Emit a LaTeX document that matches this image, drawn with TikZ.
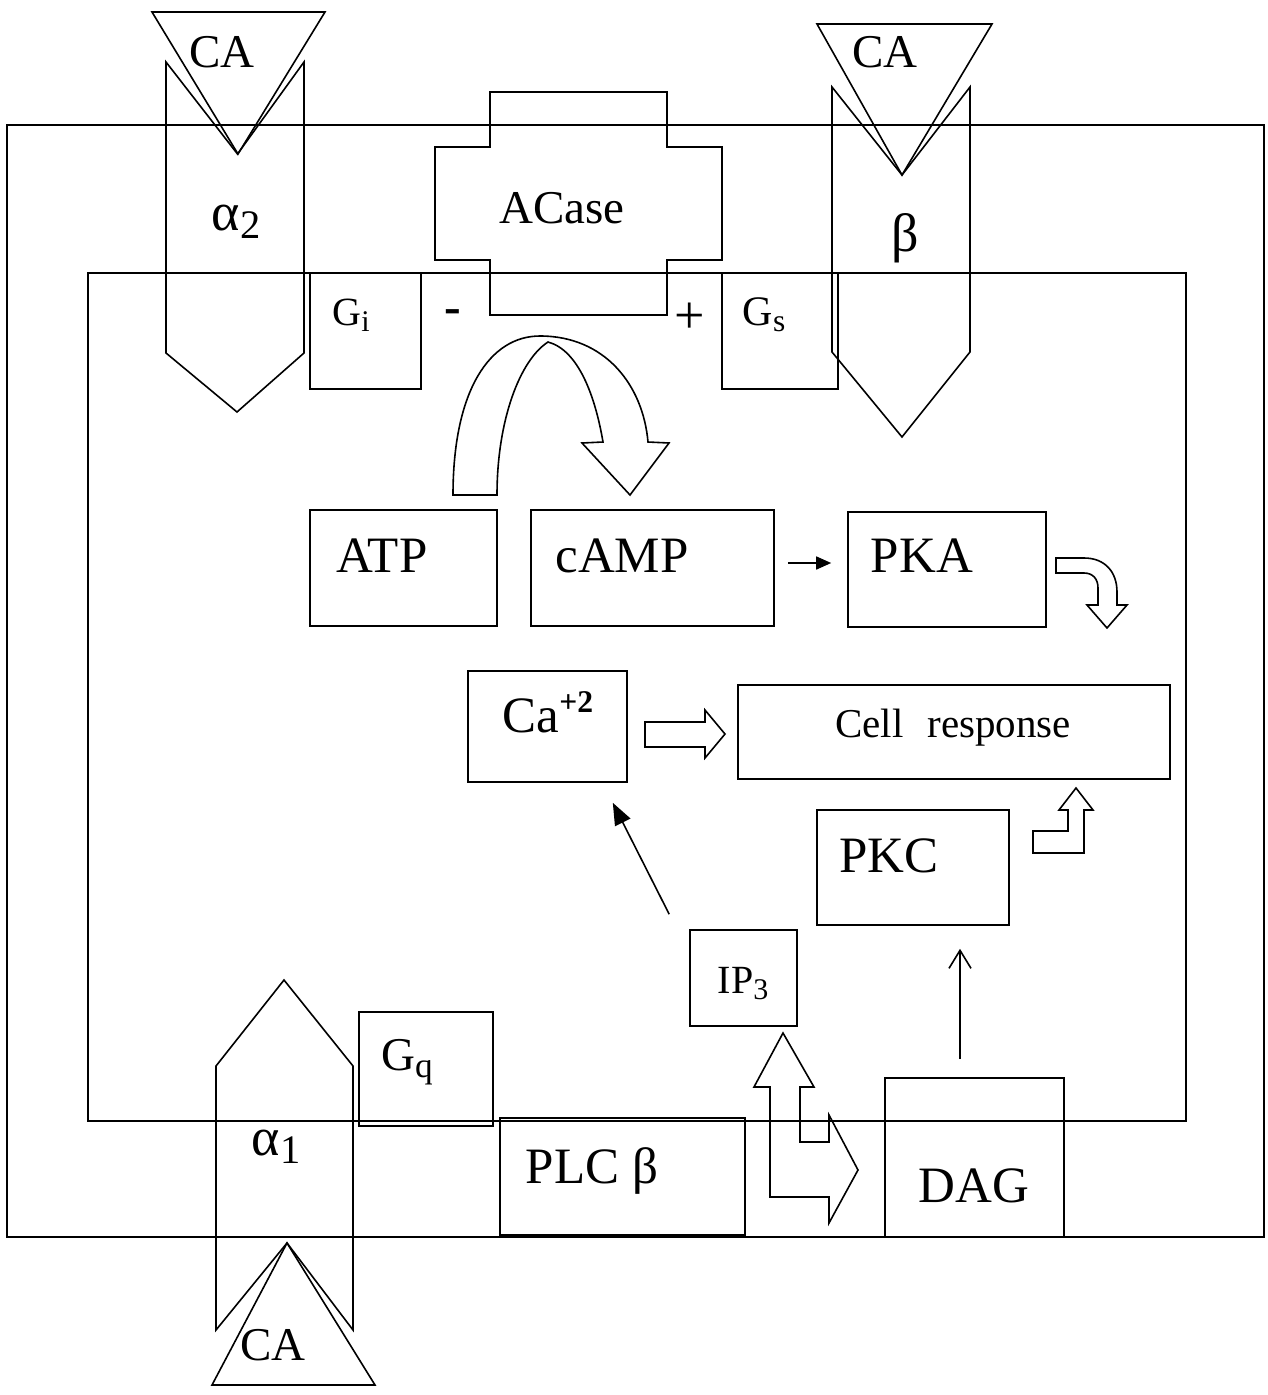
\documentclass[tikz,border=0pt]{standalone}
\usepackage{fontspec}
\setmainfont{Liberation Serif}
\usetikzlibrary{arrows.meta}
\newcommand\subt[1]{\raisebox{-0.35ex}{\scalebox{0.75}{#1}}}
\newcommand\supt[1]{\raisebox{0.85ex}{\scalebox{0.62}{#1}}}
\begin{document}
\begin{tikzpicture}[x=1pt,y=-1pt,line width=1.6pt,line join=miter,
  bx/.style={draw,inner sep=0pt,line width=1.6pt},
  lbl/.style={inner sep=0pt,anchor=base},
  fbig/.style={font=\fontsize{51}{51}\selectfont},
  fmid/.style={font=\fontsize{47}{47}\selectfont},
  fgr/.style={font=\fontsize{54}{54}\selectfont},
  fsm/.style={font=\fontsize{42}{42}\selectfont},
  fxs/.style={font=\fontsize{40}{40}\selectfont}]
\useasboundingbox (0,0) rectangle (1268,1395);
% membranes
\node[bx,minimum width=1257pt,minimum height=1112pt] (outer) at (635.5,681) {};
\node[bx,minimum width=1098pt,minimum height=848pt] (inner) at (637,697) {};
% receptors and ligands
\draw (166,62) -- (237.5,154) -- (304,62) -- (304,353) -- (237,412) -- (166,353) -- cycle;
\draw (152,12) -- (325,12) -- (238,154) -- cycle;
\draw (832,87) -- (902,175) -- (970,87) -- (970,352) -- (902,437) -- (832,352) -- cycle;
\draw (817,24) -- (992,24) -- (902,175) -- cycle;
\draw (216,1330) -- (216,1066) -- (284,980) -- (353,1066) -- (353,1330) -- (287,1243) -- cycle;
\draw (212,1385) -- (375,1385) -- (287,1243) -- cycle;
% ACase
\draw (490,92) -- (667,92) -- (667,147) -- (722,147) -- (722,260) -- (667,260) -- (667,315) -- (490,315) -- (490,260) -- (435,260) -- (435,147) -- (490,147) -- cycle;
% boxes
\node[bx,minimum width=111pt,minimum height=116pt] (gi) at (365.5,331) {};
\node[bx,minimum width=116pt,minimum height=116pt] (gs) at (780,331) {};
\node[bx,minimum width=187pt,minimum height=116pt] (atp) at (403.5,568) {};
\node[bx,minimum width=243pt,minimum height=116pt] (camp) at (652.5,568) {};
\node[bx,minimum width=198pt,minimum height=115pt] (pka) at (947,569.5) {};
\node[bx,minimum width=159pt,minimum height=111pt] (ca) at (547.5,726.5) {};
\node[bx,minimum width=432pt,minimum height=94pt] (cell) at (954,732) {};
\node[bx,minimum width=192pt,minimum height=115pt] (pkc) at (913,867.5) {};
\node[bx,minimum width=107pt,minimum height=96pt] (ip3) at (743.5,978) {};
\node[bx,minimum width=179pt,minimum height=159pt] (dag) at (974.5,1157.5) {};
\node[bx,minimum width=134pt,minimum height=114pt] (gq) at (426,1069) {};
\node[bx,minimum width=245pt,minimum height=117pt] (plc) at (622.5,1176.5) {};
% labels
\node[lbl,fmid] (ca1) at (222,67) {CA};
\node[lbl,fmid] (ca2) at (885,67) {CA};
\node[lbl,fmid] (ca3) at (273,1360) {CA};
\node[lbl,fgr] (la2) at (236,230) {α\subt{2}};
\node[fgr,inner sep=0pt] (lb) at (905,238) {β};
\node[lbl,fgr] (la1) at (276,1155) {α\subt{1}};
\node[lbl,fmid] (lac) at (562,223) {ACase};
\node[lbl,fxs] (lgi) at (351,325) {G\subt{i}};
\node[lbl,fsm] (lgs) at (764,325) {G\subt{s}};
\node[lbl,fmid] (lgq) at (407,1070) {G\subt{q}};
\node[inner sep=0pt,font=\fontsize{50}{50}\selectfont\bfseries] (minus) at (453,317) {-};
\node[inner sep=0pt,font=\fontsize{54}{54}\selectfont] (plus) at (690,318) {+};
\node[lbl,fbig] (latp) at (382,572) {ATP};
\node[lbl,fbig] (lcamp) at (622,572) {cAMP};
\node[lbl,fbig] (lpka) at (922,572) {PKA};
\node[lbl,fbig] (lca) at (548,732) {Ca\supt{\textbf{+2}}};
\node[lbl,font=\fontsize{41}{41}\selectfont] (lcell) at (953,737) {Cell\,\, response};
\node[lbl,fbig] (lpkc) at (889,872) {PKC};
\node[lbl,fxs] (lip3) at (743,993) {IP\subt{3}};
\node[lbl,fbig] (lplc) at (592,1183) {PLC β};
\node[lbl,fbig] (ldag) at (974,1202) {DAG};
% curved arrow ATP -> cAMP
\draw (453,495) .. controls (453,390) and (490,336) .. (540,336) .. controls (605,336) and (643,385) .. (648,442) -- (669,443) -- (630,495) -- (582,443) -- (603,442) .. controls (595,395) and (578,350) .. (548,342) .. controls (520,360) and (497,420) .. (497,495) -- cycle;
% cAMP -> PKA
\draw[-{Triangle[length=15pt,width=13pt]}] ([shift={(13,-5)}]camp.east) -- ([shift={(-16,-6.5)}]pka.west);
% PKA bent arrow
\draw (1056,558) -- (1084,558) .. controls (1105,558) and (1117,572) .. (1117,592) -- (1117,605) -- (1127,605) -- (1107,628) -- (1087,605) -- (1098,605) -- (1098,588) .. controls (1098,579) and (1093,573) .. (1084,573) -- (1056,573) -- cycle;
% Ca -> Cell response block arrow
\draw (645,722) -- (705,722) -- (705,710) -- (725,734) -- (705,758) -- (705,747) -- (645,747) -- cycle;
% PKC -> Cell response L arrow
\draw (1033,853) -- (1084,853) -- (1084,810) -- (1093,810) -- (1076,788) -- (1059,810) -- (1068,810) -- (1068,831) -- (1033,831) -- cycle;
% IP3 -> Ca
\draw[-{Triangle[length=22pt,width=17pt]}] ([shift={(-20,-15)}]ip3.north west) -- ([shift={(-15,20)}]ca.south east);
% DAG -> PKC
\draw[-{Straight Barb[length=18pt,width=22pt]}] ([shift={(-14.5,-18)}]dag.north) -- ([shift={(47,23)}]pkc.south);
% PLC -> IP3 / DAG branching arrow
\draw (783,1033) -- (814,1087) -- (800,1087) -- (800,1142) -- (829,1142) -- (829,1115) -- (858,1170) -- (829,1223) -- (829,1197) -- (770,1197) -- (770,1087) -- (754,1087) -- cycle;
\end{tikzpicture}
\end{document}
